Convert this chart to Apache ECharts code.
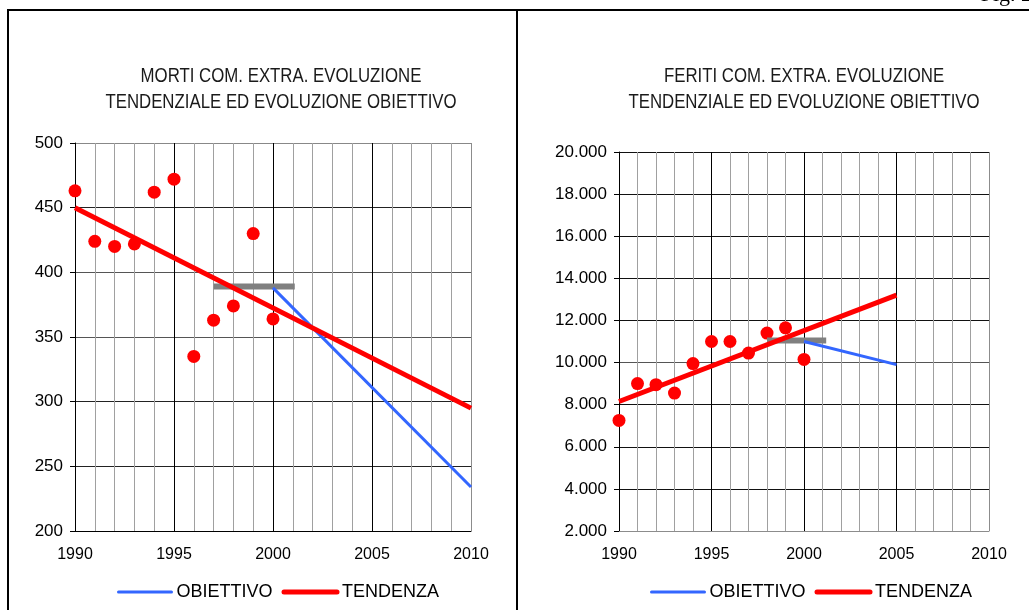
<!DOCTYPE html>
<html>
<head>
<meta charset="utf-8">
<title>Morti e feriti COM. EXTRA.</title>
<script src="https://cdn.jsdelivr.net/npm/echarts@6/dist/echarts.min.js"></script>
<style>
  html, body { margin: 0; padding: 0; background: #fff; }
  #chart { width: 1029px; height: 610px; }
</style>
</head>
<body>
<div id="chart"></div>
<script>
// Observed years (red dots)
const years = [1990, 1991, 1992, 1993, 1994, 1995, 1996, 1997, 1998, 1999, 2000];

// Road deaths, COM. EXTRA.
const mortiValues = [463, 424, 420, 422, 462, 472, 335, 363, 374, 430, 364];
const mortiTrend = [[1990, 450], [2010, 295]];        // TENDENZA
const mortiTarget = [[2000, 388], [2010, 234]];       // OBIETTIVO
const mortiBase = [[1997, 389], [2001.1, 389]];       // reference level

// Road injuries, COM. EXTRA.
const feritiValues = [7250, 9000, 8950, 8550, 9950, 11000, 11000, 10450, 11400, 11650, 10150];
const feritiTrend = [[1990, 8150], [2005, 13200]];    // TENDENZA
const feritiTarget = [[2000, 11000], [2005, 9900]];   // OBIETTIVO
const feritiBase = [[1998, 11050], [2001.2, 11050]];  // reference level

const legendNames = ['OBIETTIVO', 'TENDENZA'];
const titleMorti = 'MORTI COM. EXTRA. EVOLUZIONE\nTENDENZIALE ED EVOLUZIONE OBIETTIVO';
const titleFeriti = 'FERITI COM. EXTRA. EVOLUZIONE\nTENDENZIALE ED EVOLUZIONE OBIETTIVO';

const RED = '#ff0000';
const BLUE = '#3366ff';
const GREY = '#808080';
const FONT = 'Liberation Sans, Arial, sans-serif';

const pair = (xs, ys) => xs.map((x, i) => [x, ys[i]]);
const dotted = v => String(v).replace(/\B(?=(\d{3})+(?!\d))/g, '.');

function xAxisFor(gridIndex, axisColor) {
  return {
    type: 'value', gridIndex, min: 1990, max: 2010, interval: 5,
    axisLine: { show: true, onZero: false, lineStyle: { color: axisColor, width: 1 } },
    axisTick: { show: false },
    axisLabel: { color: '#000', fontSize: 16, fontFamily: FONT, margin: 16, formatter: v => String(v) },
    splitLine: { show: true, lineStyle: { color: ['#000', '#000', '#000', '#000', '#8c8c8c'], width: 1 } },
    minorTick: { show: false, splitNumber: 5 },
    minorSplitLine: { show: true, lineStyle: { color: '#a0a0a0', width: 1 } }
  };
}

function yAxisFor(gridIndex, min, max, interval, fmt, splitColors) {
  return {
    type: 'value', gridIndex, min, max, interval,
    axisLine: { show: true, onZero: false, lineStyle: { color: '#000', width: 1 } },
    axisTick: { show: true, length: 5, lineStyle: { color: '#000' } },
    axisLabel: { color: '#000', fontSize: 17, fontFamily: FONT, margin: 12, formatter: fmt },
    splitLine: { show: true, lineStyle: { color: splitColors, width: 1 } }
  };
}

function seriesFor(idx, values, base, target, trend) {
  return [
    {
      name: 'base' + idx, type: 'line', xAxisIndex: idx, yAxisIndex: idx,
      data: base, symbol: 'none', silent: true,
      lineStyle: { color: GREY, width: 6, cap: 'butt' }, itemStyle: { color: GREY }
    },
    {
      name: 'OBIETTIVO', type: 'line', xAxisIndex: idx, yAxisIndex: idx,
      data: target, symbol: 'none',
      lineStyle: { color: BLUE, width: 3 }, itemStyle: { color: BLUE }
    },
    {
      name: 'TENDENZA', type: 'line', xAxisIndex: idx, yAxisIndex: idx,
      data: trend, symbol: 'none',
      lineStyle: { color: RED, width: 5 }, itemStyle: { color: RED }
    },
    {
      name: 'dati' + idx, type: 'scatter', xAxisIndex: idx, yAxisIndex: idx,
      data: pair(years, values), symbol: 'circle', symbolSize: 13,
      itemStyle: { color: RED, opacity: 1 }
    }
  ];
}

function legendAt(left) {
  return {
    data: [
      { name: legendNames[0], lineStyle: { width: 3, color: BLUE, cap: 'round' } },
      { name: legendNames[1], lineStyle: { width: 5, color: RED, cap: 'round' } }
    ],
    left, top: 583, padding: 0,
    orient: 'horizontal', itemWidth: 53, itemHeight: 14, itemGap: 9,
    selectedMode: false,
    itemStyle: { opacity: 0 },
    textStyle: { color: '#000', fontSize: 18, fontFamily: FONT }
  };
}

const titleStyle = text => ({
  text, align: 'center', verticalAlign: 'middle', lineHeight: 26,
  font: '20.5px "Liberation Sans", Arial, sans-serif', fill: '#1a1a1a'
});

const chart = echarts.init(document.getElementById('chart'), null, { renderer: 'canvas' });

chart.setOption({
  backgroundColor: '#fff',
  animation: false,
  grid: [
    { left: 75, right: 558, top: 143, bottom: 79, containLabel: false },
    { left: 619, right: 40, top: 152, bottom: 79, containLabel: false }
  ],
  xAxis: [xAxisFor(0, '#000'), xAxisFor(1, '#8c8c8c')],
  yAxis: [
    yAxisFor(0, 200, 500, 50, v => String(v),
      ['#000', '#222', '#222', '#555', '#555', '#222', '#888']),
    yAxisFor(1, 2000, 20000, 2000, v => dotted(v),
      ['#8c8c8c', '#111', '#111', '#111', '#555', '#111', '#111', '#111', '#111', '#111'])
  ],
  legend: [legendAt(117), legendAt(650)],
  series: [
    ...seriesFor(0, mortiValues, mortiBase, mortiTarget, mortiTrend),
    ...seriesFor(1, feritiValues, feritiBase, feritiTarget, feritiTrend)
  ],
  graphic: [
    // page frame: top rule, left border, middle divider
    { type: 'line', shape: { x1: 7, y1: 10, x2: 1029, y2: 10 }, style: { stroke: '#000', lineWidth: 2 } },
    { type: 'line', shape: { x1: 8, y1: 10, x2: 8, y2: 610 }, style: { stroke: '#000', lineWidth: 2 } },
    { type: 'line', shape: { x1: 517, y1: 10, x2: 517, y2: 610 }, style: { stroke: '#000', lineWidth: 2 } },
    // figure caption above the rule, running off the top edge
    {
      type: 'text', x: 1032, y: 6,
      style: { text: 'Fig. 2', align: 'right', verticalAlign: 'bottom',
               font: '22px "Liberation Serif", serif', fill: '#000' }
    },
    // chart titles, horizontally condensed
    { type: 'text', x: 281, y: 89.5, scaleX: 0.82, style: titleStyle(titleMorti) },
    { type: 'text', x: 804, y: 89.5, scaleX: 0.82, style: titleStyle(titleFeriti) }
  ]
});
</script>
</body>
</html>
